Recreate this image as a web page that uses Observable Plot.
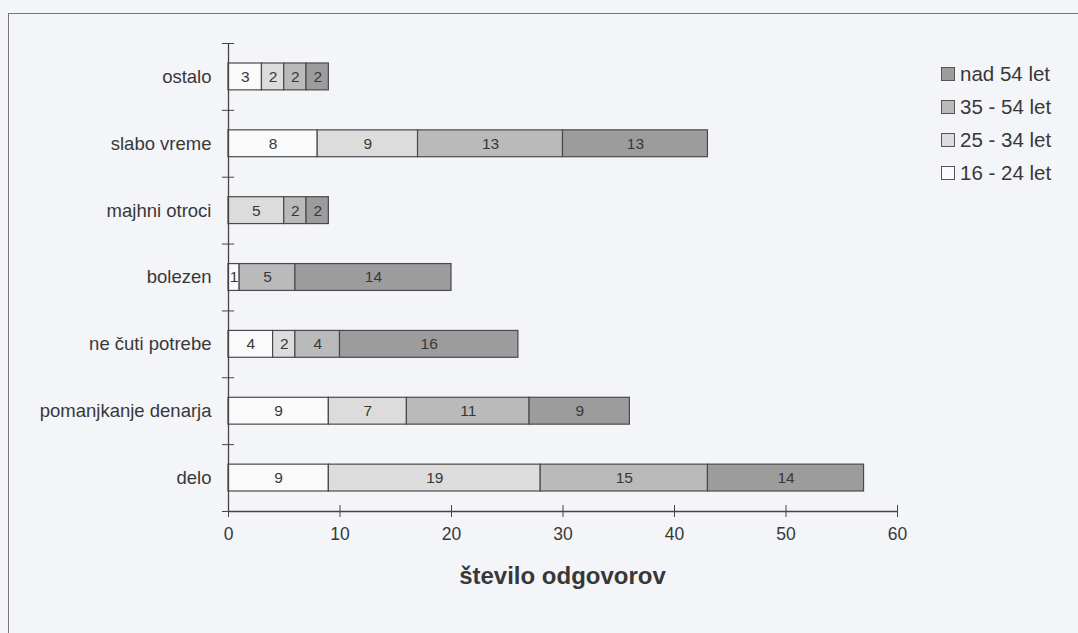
<!DOCTYPE html>
<html>
<head>
<meta charset="utf-8">
<script src="https://cdn.jsdelivr.net/npm/d3@7"></script>
<script src="https://cdn.jsdelivr.net/npm/@observablehq/plot@0.6"></script>
<style>
  html, body { margin: 0; padding: 0; background: #f4f5f8; }
  #wrap { position: relative; width: 1078px; height: 633px; overflow: hidden; background: #f4f5f8; font-family: "Liberation Sans", Arial, sans-serif; color: #383838; }
  #border { position: absolute; left: 8px; top: 13px; right: -5px; bottom: -5px; border-left: 1.5px solid #777; border-top: 1.5px solid #777; }
  #chart { position: absolute; left: 0; top: 0; }
  #xtitle { position: absolute; left: 228px; width: 669px; top: 562px; text-align: center; font-weight: bold; font-size: 24px; }
  #legend { position: absolute; left: 941px; top: 57px; }
  .row { display: flex; align-items: center; height: 33px; font-size: 20.5px; }
  .sw { width: 12px; height: 12px; border: 1px solid #555; margin-right: 5px; }
</style>
</head>
<body>
<div id="wrap">
  <div id="border"></div>
  <div id="chart"></div>
  <div id="xtitle"></div>
  <div id="legend"></div>
</div>
<script>
const categories = ["ostalo", "slabo vreme", "majhni otroci", "bolezen", "ne čuti potrebe", "pomanjkanje denarja", "delo"];
const groups = ["16 - 24 let", "25 - 34 let", "35 - 54 let", "nad 54 let"];
const v16_24 = [3, 8, 0, 1, 4, 9, 9];
const v25_34 = [2, 9, 5, 0, 2, 7, 19];
const v35_54 = [2, 13, 2, 5, 4, 11, 15];
const vNad54 = [2, 13, 2, 14, 16, 9, 14];
const xTicks = [0, 10, 20, 30, 40, 50, 60];
const groupColors = ["#fafafa", "#dcdcdc", "#bababa", "#9c9c9c"];
const xTitle = "število odgovorov";

const series = [v16_24, v25_34, v35_54, vNad54];
const table = [];
categories.forEach((c, i) => {
  let acc = 0;
  series.forEach((s, g) => {
    const v = s[i];
    if (v > 0) {
      table.push({ category: c, i, group: groups[g], value: v, x1: acc, x2: acc + v });
      acc += v;
    }
  });
});

const chart = Plot.plot({
  width: 1078,
  height: 633,
  marginLeft: 228,
  marginRight: 181,
  marginTop: 43,
  marginBottom: 122,
  style: { background: "transparent", fontFamily: "Liberation Sans, Arial, sans-serif", color: "#383838" },
  x: { domain: [0, 60], label: null },
  y: { domain: [0, categories.length], reverse: true, label: null },
  color: { domain: groups, range: groupColors },
  marks: [
    Plot.rect(table, {
      x1: "x1", x2: "x2",
      y1: "i", y2: d => d.i + 1,
      insetTop: 20, insetBottom: 20,
      fill: "group", stroke: "#4a4a4a", strokeWidth: 1.2
    }),
    Plot.text(table, {
      x: d => (d.x1 + d.x2) / 2,
      y: d => d.i + 0.5,
      text: d => String(d.value),
      fontSize: 15.5, fill: "#383838"
    }),
    Plot.ruleX([0], { stroke: "#444", strokeWidth: 1.3 }),
    Plot.ruleY([categories.length], { stroke: "#444", strokeWidth: 1.3 }),
    Plot.axisX({ ticks: xTicks, tickSize: 12, dy: -6, tickFormat: () => "", stroke: "#444", label: null }),
    Plot.axisX({ ticks: xTicks, tickSize: 0, tickPadding: 16, fontSize: 17.5, fill: "#383838", label: null }),
    Plot.axisY({ ticks: d3.range(0, categories.length + 1), tickSize: 12, dx: 6, tickFormat: () => "", stroke: "#444", label: null }),
    Plot.axisY({
      ticks: categories.map((c, i) => i + 0.5),
      tickSize: 0, tickPadding: 17, fontSize: 18.5, fill: "#383838", label: null,
      tickFormat: v => categories[Math.floor(v)]
    })
  ]
});
document.getElementById("chart").appendChild(chart);
document.getElementById("xtitle").textContent = xTitle;

const legend = document.getElementById("legend");
groups.map((g, k) => ({ g, c: groupColors[k] })).reverse().forEach(({ g, c }) => {
  const row = document.createElement("div");
  row.className = "row";
  const sw = document.createElement("div");
  sw.className = "sw";
  sw.style.background = c;
  const t = document.createElement("span");
  t.textContent = g;
  row.appendChild(sw);
  row.appendChild(t);
  legend.appendChild(row);
});
</script>
</body>
</html>
